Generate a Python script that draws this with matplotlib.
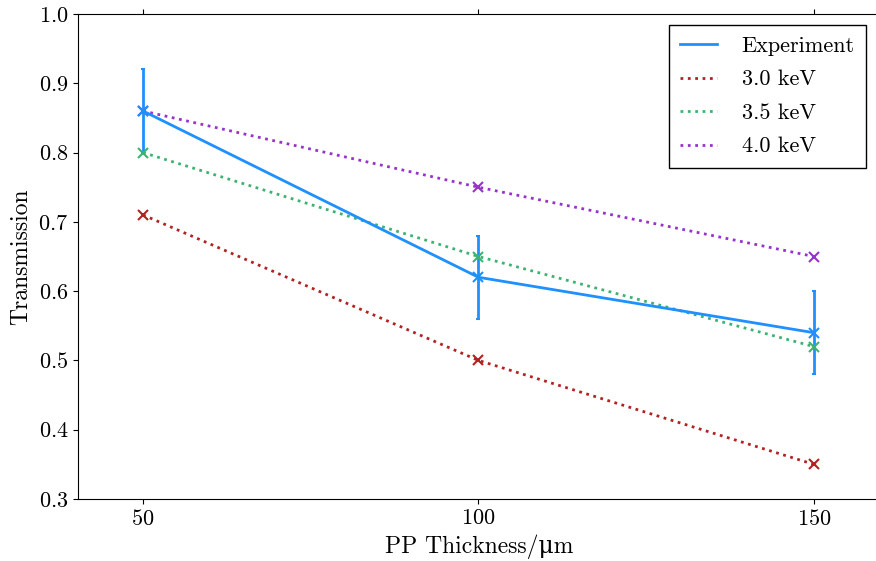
import numpy as np
import matplotlib
matplotlib.use("Agg")
import matplotlib.pyplot as plt
from matplotlib.lines import Line2D

plt.rcParams['font.family'] = ['cmr10', 'DejaVu Serif']
plt.rcParams['mathtext.fontset'] = 'cm'
plt.rcParams['axes.formatter.use_mathtext'] = True

# Data
thickness = [50, 100, 150]
experiment = [0.86, 0.62, 0.54]
exp_err = [0.06, 0.06, 0.06]
t_30 = [0.71, 0.50, 0.35]
t_35 = [0.80, 0.65, 0.52]
t_40 = [0.86, 0.75, 0.65]
labels = ['Experiment', '3.0 keV', '3.5 keV', '4.0 keV']
colors = ['#1e90ff', '#b22222', '#3cb371', '#9932cc']

fig = plt.figure(figsize=(8.76, 5.61), dpi=100)
ax = fig.add_axes([78/876, 62/561, 1 - 78/876 + 5/876, 485/561])

ax.errorbar(thickness, experiment, yerr=exp_err, color=colors[0], lw=2,
            marker='x', ms=7, mew=1.5, capsize=1.5, elinewidth=2)
for vals, c in zip([t_30, t_35, t_40], colors[1:]):
    ax.plot(thickness, vals, ':', color=c, lw=2, marker='x', ms=7, mew=1.5)

ax.set_xlim(40.3, 160)
ax.set_ylim(0.3, 1.0)
ax.set_xticks(thickness)
ax.set_yticks(np.arange(0.3, 1.01, 0.1))
ax.spines['right'].set_visible(False)
ax.tick_params(axis='x', top=True, direction='out', length=3.5, labelsize=16)
ax.tick_params(axis='y', direction='out', length=3.5, labelsize=16)

ax.set_xlabel('PP Thickness/\u03bcm', fontsize=17)
ax.set_ylabel('Transmission', fontsize=17)

# legend shows plain lines, no markers
handles = [Line2D([], [], color=colors[0], lw=2)]
handles += [Line2D([], [], color=c, ls=':', lw=2) for c in colors[1:]]
leg = ax.legend(handles, labels, loc='upper right', fontsize=16, fancybox=False,
                edgecolor='black', framealpha=1, handlelength=1.65, borderpad=0.5,
                labelspacing=0.63, handletextpad=1.1, borderaxespad=0,
                bbox_to_anchor=(0.981, 0.977))
leg.get_frame().set_linewidth(1.0)

fig.savefig('out.png', dpi=100)
